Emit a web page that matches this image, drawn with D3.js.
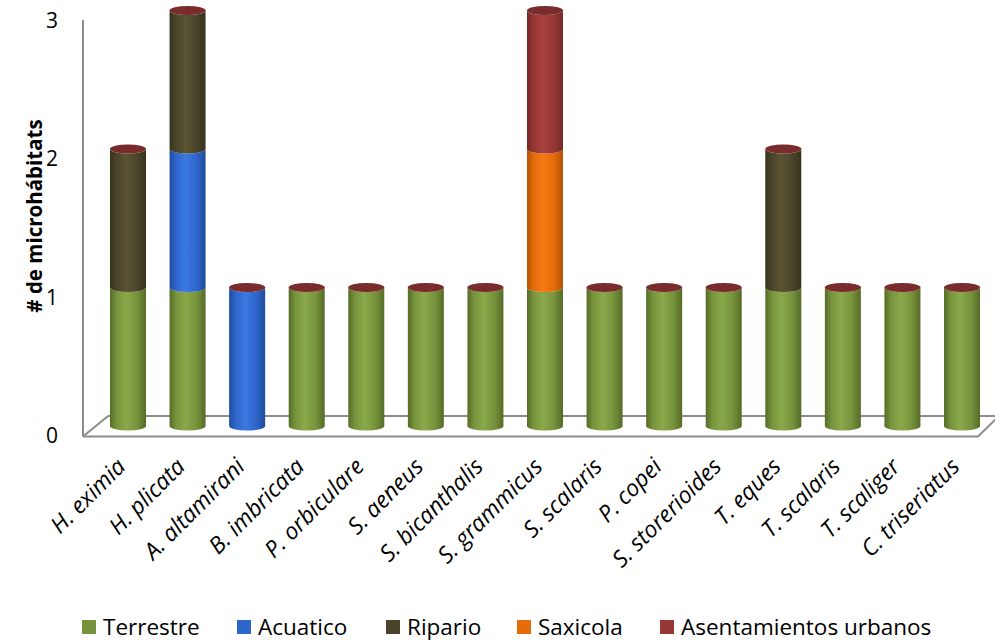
<!DOCTYPE html>
<html>
<head>
<meta charset="utf-8">
<script src="https://cdn.jsdelivr.net/npm/d3@7"></script>
<style>
  html, body { margin: 0; padding: 0; background: #fff; }
  svg { display: block; font-family: "Open Sans", sans-serif; }
</style>
</head>
<body>
<svg id="chart" width="995" height="643"></svg>
<script>
// Species (x categories)
const species = ["H. eximia", "H. plicata", "A. altamirani", "B. imbricata", "P. orbiculare",
  "S. aeneus", "S. bicanthalis", "S. grammicus", "S. scalaris", "P. copei",
  "S. storerioides", "T. eques", "T. scalaris", "T. scaliger", "C. triseriatus"];

// Microhabitat series, stacked bottom to top
const seriesNames = ["Terrestre", "Acuatico", "Ripario", "Saxicola", "Asentamientos urbanos"];
const terrestre   = [1, 1, 0, 1, 1, 1, 1, 1, 1, 1, 1, 1, 1, 1, 1];
const acuatico    = [0, 1, 1, 0, 0, 0, 0, 0, 0, 0, 0, 0, 0, 0, 0];
const ripario     = [1, 1, 0, 0, 0, 0, 0, 0, 0, 0, 0, 1, 0, 0, 0];
const saxicola    = [0, 0, 0, 0, 0, 0, 0, 1, 0, 0, 0, 0, 0, 0, 0];
const asentamientos = [0, 0, 0, 0, 0, 0, 0, 1, 0, 0, 0, 0, 0, 0, 0];

const yTicks = [0, 1, 2, 3];
const yTitle = "# de microhábitats";

// colours: [base, light centre, dark edge]
const palette = {
  "Terrestre": ["#77933c", "#8aa94a", "#566b27"],
  "Acuatico": ["#2f66cc", "#3b78e0", "#1f4c9c"],
  "Ripario": ["#4a452a", "#5a5434", "#36321d"],
  "Saxicola": ["#e46c0a", "#f47a12", "#b35205"],
  "Asentamientos urbanos": ["#953735", "#a8413e", "#742927"]
};
const capColor = "#7a2b2b";

const table = species.map((s, i) => ({
  species: s,
  "Terrestre": terrestre[i],
  "Acuatico": acuatico[i],
  "Ripario": ripario[i],
  "Saxicola": saxicola[i],
  "Asentamientos urbanos": asentamientos[i]
}));
const stacked = d3.stack().keys(seriesNames)(table);

const svg = d3.select("#chart");

const x = d3.scalePoint().domain(species).range([98.2, 991.8]).padding(0.5);
const y = d3.scaleLinear().domain([0, 3]).range([426, 10.5]);
const barW = 36, rx = barW / 2, ry = 4.5;

// cylinder shading gradients
const defs = svg.append("defs");
seriesNames.forEach((name, k) => {
  const [base, light, dark] = palette[name];
  const g = defs.append("linearGradient").attr("id", "grad" + k)
    .attr("x1", "0%").attr("x2", "100%").attr("y1", "0%").attr("y2", "0%");
  g.append("stop").attr("offset", "0%").attr("stop-color", dark);
  g.append("stop").attr("offset", "18%").attr("stop-color", base);
  g.append("stop").attr("offset", "45%").attr("stop-color", light);
  g.append("stop").attr("offset", "75%").attr("stop-color", base);
  g.append("stop").attr("offset", "100%").attr("stop-color", dark);
});

// floor and vertical axis
const floorFront = 436.5, floorBack = 416, depthX = 25;
const axisColor = "#8c8c8c";
const floor = svg.append("g").attr("stroke", axisColor).attr("stroke-width", 2).attr("fill", "none");
floor.append("line").attr("x1", 83 + depthX).attr("x2", 1000).attr("y1", floorBack).attr("y2", floorBack);
floor.append("path").attr("d", `M83,${floorFront} L${83 + depthX},${floorBack}`);
floor.append("path").attr("d", `M83,${floorFront} L978,${floorFront} L1001,${floorBack - 2}`);
floor.append("line").attr("x1", 83).attr("x2", 83).attr("y1", 20).attr("y2", floorFront);

// cylinders
const bars = svg.append("g");
stacked.forEach((layer, k) => {
  layer.forEach((d, i) => {
    if (d[1] - d[0] <= 0) return;
    const cx = x(species[i]);
    const x0 = cx - rx, x1 = cx + rx;
    const yb = y(d[0]), yt = y(d[1]);
    bars.append("path")
      .attr("d", `M${x0},${yt} L${x0},${yb} A${rx},${ry} 0 0 0 ${x1},${yb} L${x1},${yt} A${rx},${ry} 0 0 1 ${x0},${yt} Z`)
      .attr("fill", `url(#grad${k})`);
  });
});
// top caps
const totals = table.map(r => d3.sum(seriesNames, k => r[k]));
bars.selectAll("ellipse.cap").data(species).join("ellipse")
  .attr("class", "cap")
  .attr("cx", d => x(d))
  .attr("cy", (d, i) => y(totals[i]))
  .attr("rx", rx).attr("ry", ry)
  .attr("fill", capColor);

// y tick labels
svg.append("g").selectAll("text").data(yTicks).join("text")
  .attr("x", 58)
  .attr("y", d => y(d) + 9)
  .attr("text-anchor", "end")
  .attr("dominant-baseline", "central")
  .attr("font-size", 21)
  .attr("fill", "#000")
  .text(d => d);

// y axis title
svg.append("text")
  .attr("transform", "translate(34,216) rotate(-90)")
  .attr("text-anchor", "middle")
  .attr("dominant-baseline", "central")
  .attr("font-size", 20.5)
  .attr("font-weight", "bold")
  .attr("fill", "#000")
  .text(yTitle);

// x labels, rotated
svg.append("g").selectAll("text").data(species).join("text")
  .attr("transform", d => `translate(${x(d) - 1},468) rotate(-45)`)
  .attr("text-anchor", "end")
  .attr("font-size", 23)
  .attr("font-style", "italic")
  .attr("fill", "#000")
  .text(d => d);

// legend
const legendX = [82, 237, 386, 517, 660];
const legend = svg.append("g");
seriesNames.forEach((name, k) => {
  legend.append("rect")
    .attr("x", legendX[k]).attr("y", 620).attr("width", 14).attr("height", 14)
    .attr("fill", palette[name][0]);
  legend.append("text")
    .attr("x", legendX[k] + 21).attr("y", 626.5)
    .attr("dominant-baseline", "central")
    .attr("font-size", 22.5)
    .attr("fill", "#000")
    .text(name);
});
</script>
</body>
</html>
